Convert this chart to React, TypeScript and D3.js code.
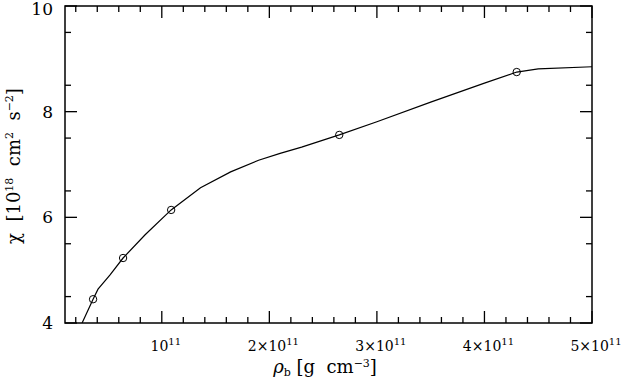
import * as d3 from "d3";

// curve samples: density in units of 1e11 g cm^-3, chi in 1e18 cm^2 s^-2
const curveRho = [0.259, 0.361, 0.407, 0.519, 0.64, 0.845, 1.087, 1.36, 1.64, 1.9, 2.1, 2.3, 2.65, 3.0, 3.5, 4.0, 4.3, 4.5, 5.0];
const curveChi = [4.0, 4.45, 4.64, 4.91, 5.23, 5.67, 6.14, 6.56, 6.86, 7.08, 7.21, 7.33, 7.56, 7.81, 8.18, 8.54, 8.75, 8.81, 8.85];

// marked models
const markRho = [0.361, 0.64, 1.087, 2.65, 4.3];
const markChi = [4.45, 5.23, 6.14, 7.56, 8.75];

const xMajor = [1, 2, 3, 4, 5];
const xMajorLabels = ["", "2×", "3×", "4×", "5×"];
const yMajor = [4, 6, 8, 10];

const W = 622;
const H = 379;
const font = "'DejaVu Serif', serif";

export default function App() {
  const x = d3.scaleLinear().domain([0.1, 5]).range([65, 592]);
  const y = d3.scaleLinear().domain([4, 10]).range([323, 6]);

  const xMinor = d3.range(0.2, 5.0001, 0.2).filter((v) => Math.abs(v - Math.round(v)) > 1e-6);
  const yMinor = d3.range(4.5, 10, 1);

  const line = d3
    .line<number>()
    .x((_, i) => x(curveRho[i]))
    .y((_, i) => y(curveChi[i]));

  const [x0, x1] = x.range();
  const [y0, y1] = y.range();
  const major = 12;
  const minor = 6;

  return (
    <div style={{ position: "absolute", left: 0, top: 0 }}>
      <svg width={W} height={H} style={{ display: "block" }}>
        <rect x={0} y={0} width={W} height={H} fill="white" />
        <defs>
          <clipPath id="plot">
            <rect x={x0} y={y1} width={x1 - x0} height={y0 - y1} />
          </clipPath>
        </defs>

        <g stroke="black" strokeWidth={1.3}>
          {xMajor.map((v) => (
            <g key={"xm" + v}>
              <line x1={x(v)} x2={x(v)} y1={y0} y2={y0 - major} />
              <line x1={x(v)} x2={x(v)} y1={y1} y2={y1 + major} />
            </g>
          ))}
          {xMinor.map((v) => (
            <g key={"xn" + v}>
              <line x1={x(v)} x2={x(v)} y1={y0} y2={y0 - minor} />
              <line x1={x(v)} x2={x(v)} y1={y1} y2={y1 + minor} />
            </g>
          ))}
          {yMajor.map((v) => (
            <g key={"ym" + v}>
              <line x1={x0} x2={x0 + major} y1={y(v)} y2={y(v)} />
              <line x1={x1} x2={x1 - major} y1={y(v)} y2={y(v)} />
            </g>
          ))}
          {yMinor.map((v) => (
            <g key={"yn" + v}>
              <line x1={x0} x2={x0 + minor} y1={y(v)} y2={y(v)} />
              <line x1={x1} x2={x1 - minor} y1={y(v)} y2={y(v)} />
            </g>
          ))}
        </g>
        <rect x={x0} y={y1} width={x1 - x0} height={y0 - y1} fill="none" stroke="black" strokeWidth={1.5} />

        <g clipPath="url(#plot)">
          <path d={line(curveRho) ?? ""} fill="none" stroke="black" strokeWidth={1.2} />
        </g>
        {markRho.map((v, i) => (
          <circle key={"c" + i} cx={x(v)} cy={y(markChi[i])} r={3.7} fill="none" stroke="black" strokeWidth={1} />
        ))}

        <g fontFamily={font} fontSize={17} textAnchor="end" fill="black">
          {yMajor.map((v) => (
            <text key={"yl" + v} x={53} y={Math.max(y(v), 8.5)} dy="0.36em">
              {v}
            </text>
          ))}
        </g>

        <g fontFamily={font} fontSize={14} textAnchor="middle" fill="black">
          {xMajor.map((v, i) => (
            <text key={"xl" + v} x={x(v) + 4} y={351}>
              {xMajorLabels[i]}10
              <tspan fontSize={10} dy={-6}>11</tspan>
            </text>
          ))}
        </g>

        <text
          x={325}
          y={373}
          fontFamily={font}
          fontSize={18}
          textAnchor="middle"
          fill="black"
          style={{ whiteSpace: "pre" }}
        >
          <tspan fontStyle="italic">ρ</tspan>
          <tspan fontSize={11} dy={3}>b</tspan>
          <tspan dy={-3}>{" [g  cm"}</tspan>
          <tspan fontSize={11} dy={-6}>−3</tspan>
          <tspan dy={6}>]</tspan>
        </text>

        <text
          transform={`translate(20,166) rotate(-90)`}
          fontFamily={font}
          fontSize={18}
          textAnchor="middle"
          fill="black"
          style={{ whiteSpace: "pre" }}
        >
          {"χ  [10"}
          <tspan fontSize={11} dy={-7}>18</tspan>
          <tspan dy={7}>{"  cm"}</tspan>
          <tspan fontSize={11} dy={-7}>2</tspan>
          <tspan dy={7}>{"  s"}</tspan>
          <tspan fontSize={11} dy={-7}>−2</tspan>
          <tspan dy={7}>]</tspan>
        </text>
      </svg>
    </div>
  );
}
